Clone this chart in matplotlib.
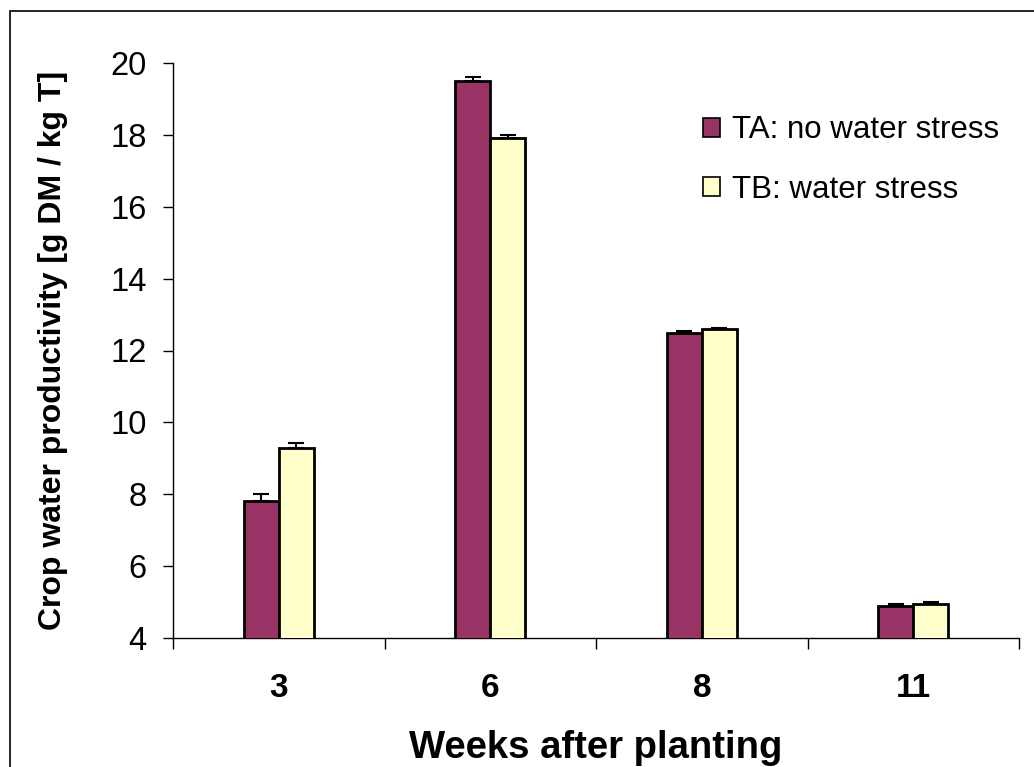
import matplotlib
matplotlib.use("Agg")
import matplotlib.pyplot as plt
import numpy as np
from matplotlib.patches import Rectangle

plt.rcParams['font.family'] = ['Liberation Sans', 'DejaVu Sans']

weeks = ["3", "6", "8", "11"]
ta_values = [7.8, 19.5, 12.5, 4.9]
ta_errors = [0.22, 0.12, 0.05, 0.05]
tb_values = [9.3, 17.9, 12.6, 4.95]
tb_errors = [0.12, 0.1, 0.02, 0.05]
series_labels = ["TA: no water stress", "TB: water stress"]
colors = ["#993366", "#FFFFCC"]

fig = plt.figure(figsize=(10.34, 7.67), dpi=100)
ax = fig.add_axes([173/1034, 1 - 638/767, 846/1034, 575/767])

# outer chart frame
fig.patches.append(Rectangle((10/1034, -0.05), 1.1, 1 - 11/767 + 0.05,
                             transform=fig.transFigure, fill=False,
                             edgecolor="black", linewidth=1.2))

x = np.arange(len(weeks))
w = 0.165
err_kw = dict(ecolor="black", elinewidth=1.5, capsize=5.5, capthick=1.5)
ax.bar(x - w/2, ta_values, w, yerr=[[0]*4, ta_errors], color=colors[0],
       edgecolor="black", linewidth=2, label=series_labels[0],
       error_kw=err_kw, zorder=3)
ax.bar(x + w/2, tb_values, w, yerr=[[0]*4, tb_errors], color=colors[1],
       edgecolor="black", linewidth=2, label=series_labels[1],
       error_kw=err_kw, zorder=3)

ax.set_xlim(-0.5, len(weeks) - 0.5)
ax.set_ylim(4, 20)
ax.set_yticks(np.arange(4, 21, 2))
ax.tick_params(axis="y", labelsize=23.5, length=7, width=1, direction="out", pad=12)
ax.set_xticks(x)
ax.set_xticklabels(weeks, fontsize=24, fontweight="bold")
ax.tick_params(axis="x", length=0, pad=25)
ax.set_xticks(np.arange(-0.5, len(weeks) + 0.5, 1), minor=True)
ax.tick_params(axis="x", which="minor", length=8, width=1, direction="out")

for s in ["top", "right"]:
    ax.spines[s].set_visible(False)
ax.spines["left"].set_linewidth(1)
ax.spines["bottom"].set_linewidth(1)

ax.set_ylabel("Crop water productivity [g DM / kg T]", fontsize=23,
              fontweight="bold", labelpad=30)
ax.set_xlabel("Weeks after planting", fontsize=27.5, fontweight="bold", labelpad=19)

leg = ax.legend(loc="upper left", bbox_to_anchor=(0.593, 0.958), frameon=False,
                fontsize=22.5, handlelength=0.55, handleheight=0.55,
                handletextpad=0.4, labelspacing=0.95)
for h in leg.legend_handles:
    h.set_linewidth(1.2)

fig.savefig("out.png", dpi=100)
